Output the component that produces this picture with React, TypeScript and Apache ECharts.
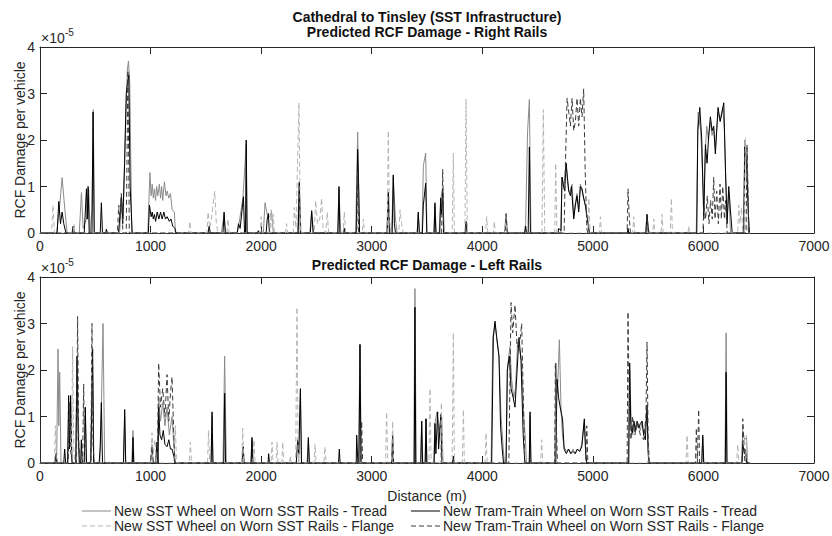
import React, { useEffect, useRef } from "react";
import * as echarts from "echarts";

// Distance (m) vs RCF damage per vehicle, in units of 1e-5
const rightSstTread: number[][] = [[0,0],[150,0],[175,0.5],[200,1.19],[225,0.5],[245,0],[355,0],[375,0.87],[390,0.1],[420,0.3],[440,0.95],[455,0],[470,0.5],[482,2.65],[492,0],[720,0],[737,0.75],[752,0.3],[770,2.0],[790,3.5],[800,3.7],[812,3.2],[830,0],[975,0],[994,1.3],[1005,0.8],[1015,1.05],[1025,0.75],[1035,0.95],[1045,0.7],[1055,1.0],[1065,0.8],[1080,1.05],[1090,0.75],[1100,1.0],[1110,0.7],[1125,1.1],[1140,0.8],[1150,0.9],[1165,0.75],[1180,0.85],[1195,0.5],[1215,0.45],[1225,0],[1640,0],[1665,0.4],[1680,0],[1780,0],[1800,0.2],[1835,0.75],[1865,1.9],[1875,0],[2020,0],[2035,0.65],[2055,0.4],[2075,0.35],[2095,0.45],[2110,0],[2330,0],[2345,1.05],[2360,0],[2440,0],[2457,0.45],[2475,0],[2690,0],[2704,0.95],[2720,0],[2855,0],[2873,2.17],[2890,0],[3135,0],[3150,0.85],[3165,0],[3180,0],[3195,1.2],[3215,0.3],[3230,0],[3410,0],[3421,0.4],[3435,0],[3455,0],[3467,1.45],[3488,1.72],[3500,0],[3560,0],[3572,0.6],[3585,0],[3610,0],[3624,0.75],[3642,0.95],[3655,0],[4200,0],[4215,0.4],[4230,0],[4380,0],[4392,0.2],[4410,2.2],[4426,2.87],[4440,0],[4710,0],[4721,1.2],[4735,1.0],[4758,1.5],[4770,1.1],[4782,0.9],[4800,0.9],[4812,1.05],[4827,0.35],[4842,0.65],[4857,0.85],[4872,0.5],[4887,1.05],[4902,0.9],[4917,0.75],[4935,0.55],[4957,0.2],[4970,0],[5475,0],[5490,0.4],[5505,0],[5935,0],[5952,2.6],[5975,2.2],[5990,1.4],[6003,0.6],[6018,1.8],[6030,2.3],[6045,2.0],[6063,2.4],[6078,2.1],[6093,2.25],[6108,1.8],[6132,2.6],[6150,2.4],[6175,2.7],[6190,2.2],[6200,1.3],[6214,0.3],[6229,0.9],[6245,0],[6360,0],[6374,2.0],[6395,1.7],[6410,0],[6420,0]];

const rightTtTread: number[][] = [[0,0],[155,0],[170,0.68],[185,0.2],[200,0.45],[215,0.2],[235,0],[290,0],[300,0.15],[310,0],[400,0],[420,0.95],[428,0.3],[435,1.0],[445,0],[470,0],[480,2.6],[490,0],[545,0],[555,0.65],[565,0],[595,0],[600,0.08],[610,0],[710,0],[722,0.35],[737,0.8],[748,0.2],[765,1.5],[780,3.0],[790,3.2],[803,3.4],[815,1.0],[834,0],[980,0],[990,0.6],[1005,0.35],[1015,0.45],[1025,0.3],[1035,0.4],[1045,0.25],[1060,0.45],[1075,0.3],[1090,0.45],[1105,0.3],[1120,0.45],[1135,0.3],[1150,0.35],[1170,0.25],[1185,0.3],[1200,0.15],[1220,0.1],[1230,0],[1520,0],[1530,0.15],[1540,0],[1655,0],[1665,0.45],[1675,0],[1785,0],[1795,0.2],[1810,0.1],[1830,0.55],[1840,0.78],[1850,0],[1858,0],[1865,2.0],[1872,0],[1965,0],[1975,0.05],[1985,0],[2045,0],[2055,0.3],[2065,0.42],[2075,0],[2335,0],[2345,1.1],[2355,0],[2445,0],[2457,0.48],[2470,0],[2695,0],[2704,1.0],[2712,0],[2745,0],[2752,0.1],[2760,0],[2860,0],[2873,1.8],[2880,1.2],[2890,0],[3140,0],[3150,0.88],[3160,0],[3185,0],[3195,1.25],[3205,0.2],[3215,0],[3412,0],[3421,0.45],[3430,0],[3458,0],[3467,0.6],[3488,1.07],[3498,0],[3565,0],[3572,0.65],[3580,0],[3615,0],[3624,0.75],[3632,0.4],[3642,0.95],[3650,0],[3845,0],[3853,0.25],[3862,0],[4385,0],[4392,0.15],[4400,0],[4415,0],[4426,1.85],[4435,0],[4685,0],[4691,0.1],[4712,0.05],[4721,1.2],[4735,1.0],[4745,0.9],[4758,1.5],[4770,1.2],[4782,0.9],[4797,0.8],[4806,1.0],[4827,0.3],[4842,0.6],[4857,0.8],[4872,0.45],[4887,1.0],[4902,0.95],[4917,0.75],[4932,0.6],[4957,0.2],[4968,0],[5312,0],[5318,0.1],[5325,0],[5480,0],[5490,0.4],[5500,0.1],[5510,0],[5940,0],[5949,2.2],[5967,2.7],[5985,2.0],[6003,0.3],[6018,1.9],[6033,1.5],[6048,2.1],[6063,2.5],[6078,2.2],[6093,2.3],[6108,1.7],[6132,2.7],[6152,2.4],[6184,2.8],[6199,1.4],[6214,0.2],[6229,1.0],[6244,0.5],[6260,0],[6365,0],[6374,1.85],[6390,1.5],[6405,0.5],[6416,0],[6420,0]];

const rightSstFlange: number[][] = [[0,0],[105,0],[118,0.6],[130,0],[300,0],[308,0.2],[318,0],[1345,0],[1355,0.25],[1365,0],[1510,0],[1520,0.45],[1535,0.1],[1550,0.3],[1580,0.9],[1595,0.2],[1610,0],[1690,0],[1700,0.3],[1710,0],[1990,0],[2000,0.35],[2010,0],[2080,0],[2090,0.5],[2100,0.1],[2110,0.4],[2120,0],[2220,0],[2230,0.2],[2240,0],[2290,0],[2300,0.55],[2315,0.1],[2342,2.8],[2355,0],[2480,0],[2493,0.7],[2510,0.2],[2530,0.3],[2547,0.75],[2560,0.1],[2585,0],[2598,0.45],[2610,0],[2740,0],[2752,0.45],[2765,0],[2915,0],[2924,0.3],[2935,0],[3140,0],[3150,2.2],[3160,0.3],[3175,0],[3245,0],[3256,0.5],[3270,0.2],[3285,0],[3728,0],[3738,1.72],[3748,0],[3843,0],[3853,2.87],[3865,0],[4030,0],[4040,0.35],[4050,0],[4100,0],[4109,0.25],[4118,0],[4540,0],[4552,2.65],[4565,0],[4655,0],[4664,1.5],[4675,0],[4955,0],[4963,0.75],[4975,0],[5060,0],[5068,0.35],[5078,0],[5360,0],[5370,0.35],[5380,0],[5542,0],[5551,0.3],[5560,0],[5617,0],[5626,0.4],[5636,0],[5700,0],[5710,0.75],[5720,0],[5860,0],[5867,0.15],[5875,0],[6310,0],[6319,0.6],[6330,0.2],[6345,0.55],[6355,0],[6368,0],[6380,2.05],[6395,0],[6420,0]];

const rightTtFlange: number[][] = [[0,0],[700,0],[712,0.6],[722,0.3],[735,0.85],[750,0],[780,0],[795,3.5],[808,0],[2865,0],[2873,1.3],[2882,0],[3632,0],[3642,1.37],[3652,0],[4210,0],[4215,0.42],[4225,0],[4740,0],[4752,1.5],[4767,2.9],[4782,2.6],[4797,2.3],[4812,2.9],[4827,2.2],[4842,2.4],[4857,2.9],[4872,2.3],[4887,2.9],[4902,2.5],[4917,3.1],[4930,1.4],[4945,0.1],[4955,0],[5310,0],[5318,0.95],[5330,0.3],[5340,0],[5482,0],[5490,0.35],[5500,0],[5995,0],[6005,0.6],[6020,0.3],[6035,0.8],[6050,0.2],[6065,0.7],[6080,0.3],[6093,1.2],[6105,0.3],[6120,0.9],[6135,0.2],[6150,1.05],[6162,0.3],[6175,1.0],[6190,0.3],[6199,0.7],[6215,0],[6385,0],[6395,1.9],[6410,0],[6420,0]];

const leftSstTread: number[][] = [[0,0],[150,0],[163,2.45],[170,0.8],[178,1.95],[190,0],[250,0],[259,1.2],[270,0.5],[277,1.3],[290,0],[320,0],[335,2.2],[345,0.5],[360,0],[400,0],[410,1.0],[420,0],[455,0],[476,2.1],[488,0],[540,0],[555,1.2],[570,3.0],[585,0],[755,0],[766,1.0],[775,0],[830,0],[841,0.7],[850,0],[1000,0],[1013,0.4],[1025,0],[1060,0],[1073,1.4],[1090,0.9],[1110,1.3],[1130,0.8],[1149,1.2],[1170,0.6],[1194,1.0],[1210,0.4],[1225,0],[1545,0],[1556,1.0],[1565,0],[1655,0],[1670,2.3],[1685,0],[1905,0],[1917,0.5],[1928,0],[2340,0],[2355,1.5],[2365,0],[2415,0],[2427,0.5],[2440,0],[2880,0],[2894,2.55],[2905,0],[3180,0],[3189,0.6],[3198,0],[3380,0],[3391,3.75],[3402,0],[3440,0],[3452,0.9],[3462,0],[3482,0],[3491,0.95],[3500,0],[3560,0],[3572,0.85],[3590,1.1],[3610,0.7],[3633,1.0],[3645,0],[4080,0],[4095,2.7],[4115,3.0],[4130,2.7],[4151,2.3],[4170,1.0],[4190,0.3],[4200,0],[4215,0],[4230,2.1],[4250,2.5],[4265,1.8],[4285,1.4],[4300,1.6],[4320,2.6],[4340,2.4],[4356,2.2],[4375,1.0],[4390,0.5],[4400,0],[4425,0],[4432,1.0],[4440,0],[4655,0],[4667,2.15],[4680,1.5],[4697,2.65],[4712,1.2],[4725,0.6],[4740,0.35],[4760,0.25],[4780,0.3],[4800,0.2],[4820,0.3],[4840,0.2],[4860,0.3],[4880,0.25],[4900,0.4],[4923,0.9],[4935,0.3],[4945,0],[5320,0],[5333,2.0],[5345,1.0],[5360,0.6],[5375,0.9],[5390,0.7],[5410,0.85],[5430,0.7],[5445,0.9],[5460,0.6],[5475,0.8],[5490,1.1],[5500,0.3],[5510,0],[5985,0],[5994,0.55],[6003,0],[6195,0],[6205,2.8],[6215,0],[6345,0],[6356,0.7],[6370,0.5],[6389,0.55],[6400,0],[6420,0]];

const leftTtTread: number[][] = [[0,0],[135,0],[145,0.2],[155,0],[215,0],[223,0.3],[232,0],[250,0],[259,1.45],[267,0.3],[277,1.45],[288,0],[325,0],[335,2.3],[345,0.8],[355,0],[368,0],[374,0.5],[382,0],[400,0],[410,1.2],[420,0],[460,0],[470,1.5],[476,2.45],[485,0],[535,0],[545,0.35],[555,1.3],[565,0],[755,0],[766,1.15],[775,0],[835,0],[841,0.55],[848,0],[1045,0],[1058,0.45],[1068,0],[1073,1.2],[1085,0.6],[1100,0.5],[1115,0.7],[1130,0.4],[1149,0.35],[1165,0.5],[1180,0.3],[1194,0.3],[1210,0.15],[1220,0],[1548,0],[1556,1.1],[1564,0],[1662,0],[1670,1.5],[1678,0],[1826,0],[1838,0.35],[1846,0],[1910,0],[1917,0.55],[1925,0],[2062,0],[2068,0.2],[2075,0],[2318,0],[2330,0.5],[2340,0.2],[2355,1.6],[2365,0],[2420,0],[2427,0.55],[2435,0],[2700,0],[2707,0.3],[2714,0],[2860,0],[2864,0.6],[2875,0],[2885,0],[2894,2.55],[2903,0],[3182,0],[3189,0.6],[3197,0],[3385,0],[3391,3.35],[3398,0],[3445,0],[3452,0.9],[3460,0],[3484,0],[3491,0.95],[3498,0],[3565,0],[3572,0.85],[3580,0.2],[3596,1.1],[3605,0.3],[3625,1.05],[3635,0],[3730,0],[3738,0.15],[3746,0],[4085,0],[4100,2.7],[4115,3.05],[4130,2.7],[4151,2.3],[4165,0.8],[4180,0.3],[4192,0],[4215,0],[4226,2.0],[4245,2.3],[4260,1.6],[4280,1.4],[4296,1.2],[4315,2.0],[4332,2.7],[4350,2.2],[4370,0.6],[4385,0],[4425,0],[4432,1.1],[4440,0],[4665,0],[4676,1.8],[4690,1.4],[4712,1.1],[4726,0.95],[4740,0.3],[4760,0.2],[4780,0.3],[4800,0.2],[4820,0.25],[4840,0.2],[4860,0.3],[4880,0.25],[4900,0.35],[4923,0.95],[4935,0.2],[4945,0],[5325,0],[5333,2.15],[5343,0.8],[5355,0.65],[5370,0.9],[5385,0.7],[5400,0.9],[5415,0.75],[5430,0.85],[5445,0.9],[5460,0.6],[5475,0.5],[5490,1.25],[5500,0.2],[5510,0],[5985,0],[5994,0.6],[6003,0],[6198,0],[6205,1.95],[6212,0],[6350,0],[6356,0.4],[6370,0.2],[6380,0.3],[6392,0],[6420,0]];

const leftSstFlange: number[][] = [[0,0],[130,0],[139,0.8],[148,0],[285,0],[295,2.5],[305,0.3],[315,0],[1000,0],[1013,0.65],[1025,0.2],[1040,0.5],[1050,0],[1210,0],[1224,0.8],[1235,0],[1350,0],[1360,0.45],[1370,0],[1515,0],[1525,0.7],[1535,0],[1825,0],[1833,0.75],[1843,0],[1925,0],[1935,0.5],[1945,0],[2090,0],[2098,0.45],[2108,0],[2135,0],[2144,0.45],[2153,0],[2187,0],[2195,0.45],[2205,0],[2255,0],[2264,0.15],[2272,0],[2312,0],[2324,3.35],[2335,0],[2478,0],[2487,0.4],[2497,0],[2568,0],[2577,0.35],[2587,0],[3125,0],[3135,1.1],[3145,0],[3180,0],[3189,0.9],[3198,0],[3517,0],[3527,1.6],[3537,0],[3620,0],[3630,1.3],[3640,0],[3728,0],[3738,2.8],[3748,0],[3820,0],[3829,1.15],[3838,0],[4025,0],[4034,0.65],[4044,0],[4528,0],[4537,0.5],[4547,0],[5495,0],[5505,0.3],[5515,0],[5843,0],[5852,0.6],[5862,0],[6300,0],[6310,0.4],[6320,0],[6380,0],[6389,0.6],[6398,0],[6420,0]];

const leftTtFlange: number[][] = [[0,0],[255,0],[265,1.3],[275,0.3],[290,0],[330,0],[340,3.15],[350,0.5],[360,0],[385,0],[395,1.7],[405,0],[460,0],[470,3.0],[480,0.4],[490,0],[1000,0],[1013,0.35],[1025,0],[1062,0],[1073,2.15],[1090,1.2],[1110,1.6],[1130,1.0],[1149,1.9],[1165,0.9],[1180,1.5],[1194,1.85],[1210,0.6],[1220,0],[2900,0],[2909,0.9],[2918,0],[4240,0],[4260,3.45],[4275,2.8],[4296,3.4],[4315,2.5],[4340,2.6],[4356,3.0],[4370,1.5],[4385,0],[4655,0],[4661,2.15],[4670,0.8],[4680,0],[4935,0],[4945,0.8],[4955,0],[5310,0],[5318,3.25],[5330,1.0],[5345,0.5],[5360,1.0],[5380,0.6],[5400,0.9],[5430,0.6],[5460,0.5],[5480,1.0],[5490,2.6],[5500,0.5],[5510,0],[5928,0],[5936,0.75],[5945,0],[5950,0],[5957,1.15],[5965,0],[6350,0],[6356,0.95],[6365,0.5],[6375,0],[6420,0]];

const legendNames = [
  "New SST Wheel on Worn SST Rails - Tread",
  "New Tram-Train Wheel on Worn SST Rails - Tread",
  "New SST Wheel on Worn SST Rails - Flange",
  "New Tram-Train Wheel on Worn SST Rails - Flange",
];
const mainTitle = "Cathedral to Tinsley (SST Infrastructure)";
const panelTitles = ["Predicted RCF Damage - Right Rails", "Predicted RCF Damage - Left Rails"];
const yAxisName = "RCF Damage per vehicle";
const xAxisName = "Distance (m)";

const FONT = "'Liberation Sans', Arial, Helvetica, sans-serif";
const TXT = "#262626";
const FS = 14;
const styles = [
  { color: "#8a8a8a", type: "solid" as any },
  { color: "#000000", type: "solid" as any },
  { color: "#b4b4b4", type: [5, 3] as any },
  { color: "#3c3c3c", type: [5, 3] as any },
];

export default function App() {
  const ref = useRef<HTMLDivElement>(null);
  useEffect(() => {
    if (!ref.current) return;
    const chart = echarts.init(ref.current, null, { renderer: "svg" });
    const grids = [
      { left: 40, right: 18, top: 47, height: 186, containLabel: false, outerBoundsMode: "none" },
      { left: 40, right: 18, top: 277, height: 186, containLabel: false, outerBoundsMode: "none" },
    ];
    const xAxes: any[] = [];
    const yAxes: any[] = [];
    grids.forEach((_, gi) => {
      xAxes.push({
        type: "value", gridIndex: gi, min: 0, max: 7000, interval: 1000, position: "bottom",
        axisLine: { show: true, onZero: false, lineStyle: { color: TXT, width: 1 } },
        axisTick: { show: true, inside: true, length: 7, lineStyle: { color: TXT } },
        axisLabel: { show: true, color: TXT, fontSize: FS, fontFamily: FONT, margin: 6, formatter: (v: number) => String(v) },
        splitLine: { show: false },
        name: gi === 1 ? xAxisName : "",
        nameLocation: "middle", nameGap: 26, nameMoveOverlap: false,
        nameTextStyle: { color: TXT, fontSize: FS, fontFamily: FONT },
      });
      xAxes.push({
        type: "value", gridIndex: gi, min: 0, max: 7000, interval: 1000, position: "top",
        axisLine: { show: true, onZero: false, lineStyle: { color: TXT, width: 1 } },
        axisTick: { show: true, inside: true, length: 7, lineStyle: { color: TXT } },
        axisLabel: { show: false }, splitLine: { show: false },
      });
      yAxes.push({
        type: "value", gridIndex: gi, min: 0, max: 4, interval: 1, position: "left",
        axisLine: { show: true, onZero: false, lineStyle: { color: TXT, width: 1 } },
        axisTick: { show: true, inside: true, length: 7, lineStyle: { color: TXT } },
        axisLabel: { show: true, color: TXT, fontSize: FS, fontFamily: FONT, margin: 5 },
        splitLine: { show: false },
        name: yAxisName, nameLocation: "middle", nameGap: 13, nameRotate: 90, nameMoveOverlap: false,
        nameTextStyle: { color: TXT, fontSize: FS, fontFamily: FONT },
      });
      yAxes.push({
        type: "value", gridIndex: gi, min: 0, max: 4, interval: 1, position: "right",
        axisLine: { show: true, onZero: false, lineStyle: { color: TXT, width: 1 } },
        axisTick: { show: true, inside: true, length: 7, lineStyle: { color: TXT } },
        axisLabel: { show: false }, splitLine: { show: false },
      });
    });

    const panels = [
      [rightSstTread, rightTtTread, rightSstFlange, rightTtFlange],
      [leftSstTread, leftTtTread, leftSstFlange, leftTtFlange],
    ];
    const series: any[] = [];
    panels.forEach((sets, pi) => {
      sets.forEach((d, si) => {
        series.push({
          type: "line", name: legendNames[si], data: d,
          xAxisIndex: pi * 2, yAxisIndex: pi * 2,
          showSymbol: false, symbol: "none", clip: true,
          lineStyle: { color: styles[si].color, width: 1, type: styles[si].type },
          z: 2 + si,
        });
      });
    });

    const graphic: any[] = [
      { type: "text", x: 427, y: 17, style: { text: mainTitle, fill: "#111", font: `bold ${FS}px ${FONT}`, textAlign: "center", textVerticalAlign: "middle" } },
      { type: "text", x: 427, y: 32, style: { text: panelTitles[0], fill: "#111", font: `bold ${FS}px ${FONT}`, textAlign: "center", textVerticalAlign: "middle" } },
      { type: "text", x: 427, y: 265, style: { text: panelTitles[1], fill: "#111", font: `bold ${FS}px ${FONT}`, textAlign: "center", textVerticalAlign: "middle" } },
    ];
    [47, 277].forEach((top) => {
      graphic.push({ type: "text", x: 41, y: top - 9, style: { text: "×10", fill: TXT, font: `${FS}px ${FONT}`, textAlign: "left", textVerticalAlign: "middle" } });
      graphic.push({ type: "text", x: 65, y: top - 15, style: { text: "-5", fill: TXT, font: `10px ${FONT}`, textAlign: "left", textVerticalAlign: "middle" } });
    });
    const legendPos = [
      { lx: 82, y: 511 }, { lx: 411, y: 511 }, { lx: 82, y: 526 }, { lx: 411, y: 526 },
    ];
    legendPos.forEach((p, i) => {
      graphic.push({
        type: "line", shape: { x1: p.lx, y1: p.y, x2: p.lx + 29, y2: p.y },
        style: { stroke: styles[i].color, lineWidth: 1, lineDash: i >= 2 ? [5, 3] : null },
      });
      graphic.push({
        type: "text", x: p.lx + 32, y: p.y,
        style: { text: legendNames[i], fill: TXT, font: `${FS}px ${FONT}`, textAlign: "left", textVerticalAlign: "middle" },
      });
    });

    chart.setOption({
      animation: false,
      backgroundColor: "#ffffff",
      grid: grids,
      xAxis: xAxes,
      yAxis: yAxes,
      series,
      graphic,
    });
    return () => chart.dispose();
  }, []);
  return <div ref={ref} style={{ position: "fixed", left: 0, top: 0, width: 832, height: 536 }} />;
}
